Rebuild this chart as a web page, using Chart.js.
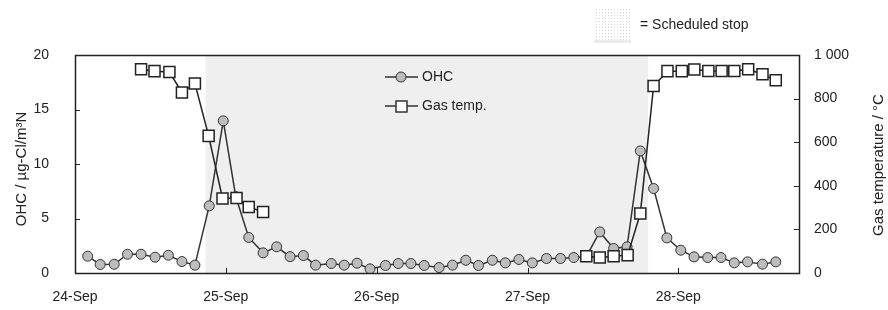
<!DOCTYPE html>
<html>
<head>
<meta charset="utf-8">
<script src="https://cdn.jsdelivr.net/npm/chart.js@4.4.1/dist/chart.umd.min.js"></script>
<style>
  body { margin: 0; background: #fff; }
  #wrap { width: 888px; height: 310px; position: relative; }
</style>
</head>
<body>
<div id="wrap"><canvas id="ohcChart"></canvas></div>
<script>
// time in days after 24-Sep 00:00
const dateLabels = ['24-Sep', '25-Sep', '26-Sep', '27-Sep', '28-Sep'];

const ohcTime = [0.084, 0.167, 0.26, 0.348, 0.438, 0.531, 0.619, 0.709, 0.795, 0.89,
  0.983, 1.066, 1.152, 1.247, 1.337, 1.426, 1.514, 1.595, 1.699, 1.785,
  1.870, 1.956, 2.058, 2.143, 2.227, 2.315, 2.414, 2.503, 2.591, 2.675,
  2.767, 2.853, 2.943, 3.032, 3.126, 3.219, 3.307, 3.39, 3.479, 3.571,
  3.66, 3.748, 3.836, 3.924, 4.016, 4.104, 4.195, 4.283, 4.371, 4.459,
  4.558, 4.646];
const ohcValues = [1.54, 0.78, 0.8, 1.72, 1.72, 1.45, 1.63, 1.05, 0.72, 6.16,
  13.96, 7.0, 3.26, 1.85, 2.4, 1.5, 1.6, 0.72, 0.87, 0.72,
  0.9, 0.38, 0.69, 0.87, 0.87, 0.69, 0.5, 0.72, 1.17, 0.69,
  1.17, 0.93, 1.24, 0.93, 1.33, 1.33, 1.42, 1.5, 3.77, 2.25,
  2.4, 11.2, 7.75, 3.22, 2.09, 1.48, 1.42, 1.42, 0.93, 1.02,
  0.81, 1.02];

// null = no measurement (line broken)
const gasTime = [0.438, 0.527, 0.626, 0.709, 0.795, 0.886, 0.978, 1.071, 1.152, 1.247,
  2.3,
  3.39, 3.479, 3.571, 3.664, 3.748, 3.836, 3.928, 4.023, 4.106, 4.199,
  4.287, 4.371, 4.463, 4.558, 4.646];
const gasValues = [935, 926, 922, 828, 869, 629, 342, 344, 303, 280,
  null,
  77, 71, 77, 82, 273, 858, 926, 926, 933, 927,
  927, 927, 935, 912, 884];

const ohcTicks = [0, 5, 10, 15, 20];
const gasTicks = [0, 200, 400, 600, 800, 1000];

const stopStart = 0.866;
const stopEnd = 3.80;

function pairs(xs, ys) {
  return xs.map((x, i) => ({ x: x, y: ys[i] }));
}

const decorPlugin = {
  id: 'decor',
  beforeDatasetsDraw(chart) {
    const ctx = chart.ctx;
    const area = chart.chartArea;
    const xs = chart.scales.x;
    // scheduled stop shading
    const x1 = xs.getPixelForValue(stopStart);
    const x2 = xs.getPixelForValue(stopEnd);
    ctx.save();
    ctx.fillStyle = '#efefef';
    ctx.fillRect(x1, area.top, x2 - x1, area.bottom - area.top);
    ctx.restore();
  },
  afterDraw(chart) {
    const ctx = chart.ctx;
    const a = chart.chartArea;
    const xs = chart.scales.x, yl = chart.scales.y, yr = chart.scales.y2;
    ctx.save();
    // frame
    ctx.strokeStyle = '#222';
    ctx.lineWidth = 1.5;
    ctx.strokeRect(Math.round(a.left) + 0.5, Math.round(a.top) + 0.5,
      Math.round(a.right - a.left), Math.round(a.bottom - a.top));
    // inside tick marks
    ctx.lineWidth = 1;
    ctx.beginPath();
    dateLabels.forEach((lbl, i) => {
      if (i === 0) return;
      const px = Math.round(xs.getPixelForValue(i)) + 0.5;
      ctx.moveTo(px, a.bottom); ctx.lineTo(px, a.bottom - 5);
    });
    ohcTicks.slice(1, -1).forEach(v => {
      const py = Math.round(yl.getPixelForValue(v)) + 0.5;
      ctx.moveTo(a.left, py); ctx.lineTo(a.left + 5, py);
    });
    gasTicks.slice(1, -1).forEach(v => {
      const py = Math.round(yr.getPixelForValue(v)) + 0.5;
      ctx.moveTo(a.right, py); ctx.lineTo(a.right - 5, py);
    });
    ctx.stroke();

    // axis titles
    ctx.fillStyle = '#222';
    ctx.font = '15px "Liberation Sans", Arial, sans-serif';
    ctx.textAlign = 'center';
    ctx.textBaseline = 'middle';
    ctx.save();
    ctx.translate(22, 169);
    ctx.rotate(-Math.PI / 2);
    ctx.fillText('OHC / µg-Cl/m³N', 0, 0);
    ctx.restore();
    ctx.save();
    ctx.translate(879, 165);
    ctx.rotate(-Math.PI / 2);
    ctx.fillText('Gas temperature / °C', 0, 0);
    ctx.restore();

    // legend inside plot
    ctx.font = '14px "Liberation Sans", Arial, sans-serif';
    ctx.textAlign = 'left';
    ctx.strokeStyle = '#333';
    ctx.lineWidth = 1.5;
    ctx.beginPath();
    ctx.moveTo(385, 77); ctx.lineTo(418, 77);
    ctx.moveTo(385, 106); ctx.lineTo(418, 106);
    ctx.stroke();
    ctx.beginPath();
    ctx.arc(401, 77, 5, 0, Math.PI * 2);
    ctx.fillStyle = '#bdbdbd';
    ctx.fill();
    ctx.lineWidth = 1;
    ctx.stroke();
    ctx.fillStyle = '#fff';
    ctx.fillRect(396, 101, 11, 11);
    ctx.lineWidth = 1.5;
    ctx.strokeRect(396, 101, 11, 11);
    ctx.fillStyle = '#222';
    ctx.fillText('OHC', 422, 77);
    ctx.fillText('Gas temp.', 422, 106);

    // scheduled stop key
    ctx.fillStyle = '#d8d8d8';
    for (let x = 596; x < 630; x += 3) {
      for (let y = 9; y < 40; y += 3) {
        ctx.fillRect(x, y, 1, 1);
      }
    }
    ctx.fillStyle = '#ececec';
    ctx.fillRect(594, 40, 37, 3);
    ctx.fillStyle = '#222';
    ctx.font = '14px "Liberation Sans", Arial, sans-serif';
    ctx.fillText('= Scheduled stop', 640, 25);
    ctx.restore();
  }
};

Chart.defaults.font.family = '"Liberation Sans", Arial, sans-serif';
Chart.defaults.font.size = 14;
Chart.defaults.color = '#222';

new Chart(document.getElementById('ohcChart'), {
  type: 'line',
  data: {
    datasets: [
      {
        label: 'OHC',
        data: pairs(ohcTime, ohcValues),
        yAxisID: 'y',
        borderColor: '#333',
        borderWidth: 1.5,
        backgroundColor: '#bdbdbd',
        pointBackgroundColor: '#bdbdbd',
        pointBorderColor: '#333',
        pointBorderWidth: 1,
        pointRadius: 5,
        pointStyle: 'circle',
        tension: 0,
        order: 2
      },
      {
        label: 'Gas temp.',
        data: pairs(gasTime, gasValues),
        yAxisID: 'y2',
        borderColor: '#222',
        borderWidth: 1.5,
        backgroundColor: '#fff',
        pointBackgroundColor: '#fff',
        pointBorderColor: '#222',
        pointBorderWidth: 1.5,
        pointRadius: 7.8,
        pointStyle: 'rect',
        spanGaps: false,
        tension: 0,
        order: 1
      }
    ]
  },
  options: {
    responsive: true,
    maintainAspectRatio: false,
    animation: false,
    layout: { padding: { top: 55, left: 0, right: 0, bottom: 0 } },
    plugins: {
      legend: { display: false },
      tooltip: { enabled: false }
    },
    scales: {
      x: {
        type: 'linear',
        min: 0,
        max: 4.8,
        grid: { display: false, drawTicks: false },
        border: { display: false },
        afterFit: s => { s.height = 37; },
        ticks: {
          stepSize: 1,
          padding: 16,
          maxRotation: 0,
          autoSkip: false,
          callback: v => (Number.isInteger(v) && dateLabels[v]) ? dateLabels[v] : ''
        }
      },
      y: {
        position: 'left',
        min: 0,
        max: 20,
        grid: { display: false, drawTicks: false },
        border: { display: false },
        afterFit: s => { s.width = 75; },
        ticks: { stepSize: 5, padding: 26 }
      },
      y2: {
        position: 'right',
        min: 0,
        max: 1000,
        grid: { display: false, drawTicks: false },
        border: { display: false },
        afterFit: s => { s.width = 89; },
        ticks: {
          stepSize: 200,
          padding: 15,
          callback: v => v === 1000 ? '1 000' : String(v)
        }
      }
    }
  },
  plugins: [decorPlugin]
});
</script>
</body>
</html>
